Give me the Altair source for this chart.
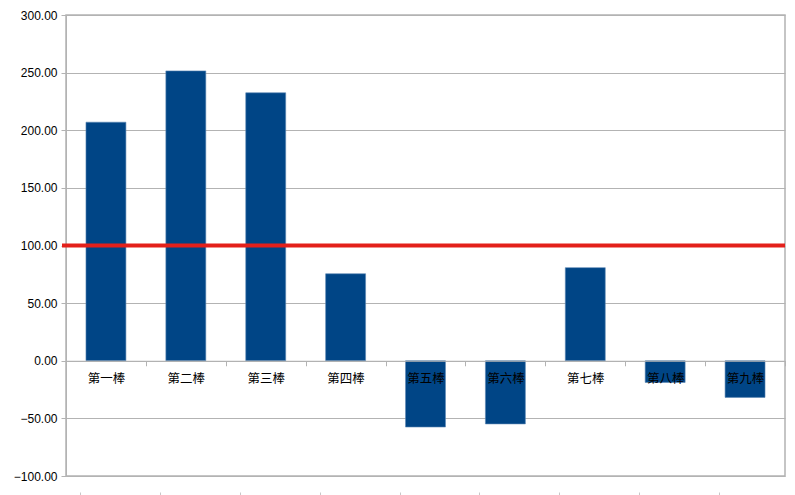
import altair as alt
import pandas as pd

categories = ["第一棒", "第二棒", "第三棒", "第四棒", "第五棒", "第六棒", "第七棒", "第八棒", "第九棒"]
values = [207.0, 251.5, 232.5, 75.5, -57.5, -54.8, 80.8, -18.8, -31.8]
reference_value = [100]
y_ticks = [-100, -50, 0, 50, 100, 150, 200, 250, 300]

df = pd.DataFrame({"cat": categories, "val": values})
ref = pd.DataFrame({"ref": reference_value})

W, H = 719, 461
STEP = W / len(categories)
GRID = "#b3b3b3"
CJK = "Noto Sans CJK SC"

x_scale = alt.Scale(domain=categories, paddingInner=0.5, paddingOuter=0.25)
y_scale = alt.Scale(domain=[-100, 300], nice=False, zero=False)

bars = alt.Chart(df).mark_bar(
    color="#004586", stroke="#5b86b4", strokeWidth=0.6
).encode(
    x=alt.X("cat:N", scale=x_scale, sort=categories, title=None,
            axis=alt.Axis(orient="bottom", offset=-(H * 100 / 400),
                          tickOffset=STEP / 2, labelOffset=-STEP / 2,
                          domainColor=GRID, tickColor=GRID, tickSize=5,
                          labelAngle=0, labelFont=CJK, labelFontSize=12.5,
                          labelColor="#000", labelPadding=7, zindex=1, grid=False)),
    y=alt.Y("val:Q", scale=y_scale, title=None,
            axis=alt.Axis(values=y_ticks, format=".2f", grid=True, gridColor=GRID,
                          domainColor=GRID, tickColor=GRID, tickSize=5,
                          labelFont="Liberation Sans", labelFontSize=12,
                          labelColor="#000", labelPadding=4)),
)

ghost = alt.Chart(df).mark_bar(opacity=0).encode(
    x=alt.X("cat:N", scale=x_scale, sort=categories, title=None,
            axis=alt.Axis(orient="bottom", offset=16, tickOffset=-26,
                          domain=False, labels=False, tickColor="#c8c8c8", tickSize=4,
                          grid=False)),
    y=alt.Y("val:Q", scale=y_scale),
)

rule = alt.Chart(ref).mark_rule(color="#e3201b", strokeWidth=4).encode(
    y=alt.Y("ref:Q", scale=y_scale),
    x=alt.value(-4),
    x2=alt.value(W),
)

chart = alt.layer(bars, ghost, rule).resolve_axis(x="independent").properties(
    width=W, height=H,
    autosize=alt.AutoSizeParams(type="none"),
    padding={"left": 58, "top": 7, "right": 2, "bottom": 20},
    background="white",
).configure_view(stroke=GRID, strokeWidth=1.5)

chart.save("out.html", embed_options={"renderer": "svg", "actions": False})
